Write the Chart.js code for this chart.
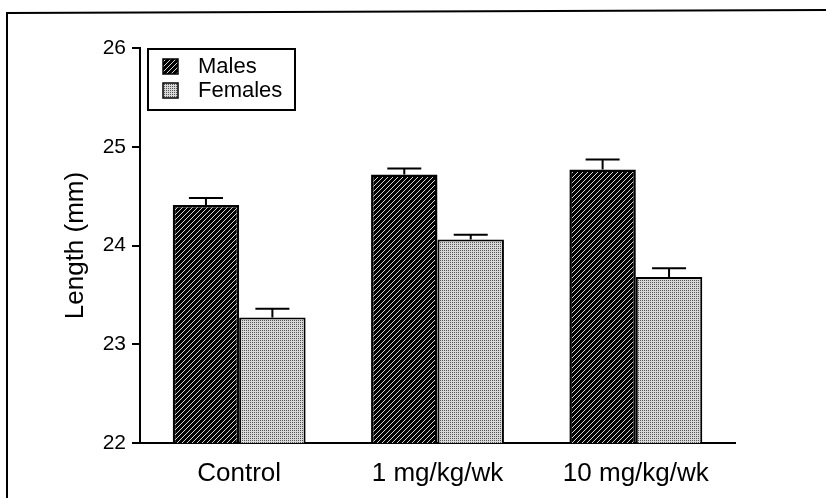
<!DOCTYPE html>
<html>
<head>
<meta charset="utf-8">
<script src="https://cdn.jsdelivr.net/npm/chart.js@4.4.1/dist/chart.umd.min.js"></script>
<style>
  html, body { margin: 0; padding: 0; background: #fff; }
  #wrap { width: 826px; height: 498px; position: relative; }
</style>
</head>
<body>
<div id="wrap"><canvas id="chart" width="826" height="498"></canvas></div>
<script>
const categories = ["Control", "1 mg/kg/wk", "10 mg/kg/wk"];
const seriesNames = ["Males", "Females"];
const males = [24.41, 24.72, 24.77];
const females = [23.27, 24.06, 23.68];
// upper error (SE) read from caps
const malesErr = [0.07, 0.06, 0.10];
const femalesErr = [0.09, 0.05, 0.09];
const yTicks = [22, 23, 24, 25, 26];

const FONT = "'Liberation Sans', Arial, Helvetica, sans-serif";

// hatched black for males
function hatchPattern() {
  const c = document.createElement("canvas");
  c.width = 5; c.height = 5;
  const g = c.getContext("2d");
  g.fillStyle = "#000";
  g.fillRect(0, 0, 5, 5);
  g.strokeStyle = "#eee";
  g.lineWidth = 0.9;
  g.beginPath();
  g.moveTo(-1, 6); g.lineTo(6, -1);
  g.moveTo(-1, 1); g.lineTo(1, -1);
  g.moveTo(4, 6); g.lineTo(6, 4);
  g.stroke();
  return g.createPattern(c, "repeat");
}

// stippled grey for females
function dotPattern() {
  const c = document.createElement("canvas");
  c.width = 2; c.height = 2;
  const g = c.getContext("2d");
  g.fillStyle = "#d8d8d8";
  g.fillRect(0, 0, 2, 2);
  g.fillStyle = "#555";
  g.fillRect(0, 0, 1, 1);
  return g.createPattern(c, "repeat");
}

const malePat = hatchPattern();
const femalePat = dotPattern();
const errs = [malesErr, femalesErr];

const errorBars = {
  id: "errorBars",
  afterDatasetsDraw(chart) {
    const ctx = chart.ctx;
    const y = chart.scales.y;
    ctx.save();
    ctx.strokeStyle = "#000";
    ctx.lineWidth = 2;
    chart.data.datasets.forEach((ds, i) => {
      const meta = chart.getDatasetMeta(i);
      meta.data.forEach((bar, j) => {
        const top = y.getPixelForValue(ds.data[j]);
        const cap = y.getPixelForValue(ds.data[j] + errs[i][j]);
        ctx.beginPath();
        ctx.moveTo(bar.x, top);
        ctx.lineTo(bar.x, cap);
        ctx.moveTo(bar.x - 17, cap);
        ctx.lineTo(bar.x + 17, cap);
        ctx.stroke();
      });
    });
    ctx.restore();
  }
};

const frameAndLegend = {
  id: "frameAndLegend",
  afterDraw(chart) {
    const ctx = chart.ctx;
    ctx.save();
    // outer frame of the figure
    ctx.strokeStyle = "#000";
    ctx.lineWidth = 2;
    ctx.beginPath();
    ctx.moveTo(7, 498);
    ctx.lineTo(7, 13);
    ctx.lineTo(826, 10);
    ctx.stroke();

    // legend box
    ctx.lineWidth = 2;
    ctx.strokeRect(148, 49, 147, 61);
    const fills = [malePat, femalePat];
    ctx.font = "22px " + FONT;
    ctx.textBaseline = "middle";
    seriesNames.forEach((name, i) => {
      const yy = 66 + i * 24;
      ctx.fillStyle = fills[i];
      ctx.fillRect(163, yy - 7, 15, 15);
      ctx.lineWidth = 1.5;
      ctx.strokeRect(163, yy - 7, 15, 15);
      ctx.fillStyle = "#000";
      ctx.fillText(name, 198, yy + 1);
    });
    ctx.restore();
  }
};

new Chart(document.getElementById("chart"), {
  type: "bar",
  data: {
    labels: categories,
    datasets: [
      { label: seriesNames[0], data: males, backgroundColor: malePat, borderColor: "#000", borderWidth: 2.5 },
      { label: seriesNames[1], data: females, backgroundColor: femalePat, borderColor: "#000", borderWidth: 2 }
    ]
  },
  options: {
    responsive: false,
    animation: false,
    events: [],
    layout: { padding: { top: 48, right: 91, left: 0, bottom: 0 } },
    datasets: { bar: { categoryPercentage: 0.67, barPercentage: 1.0 } },
    plugins: { legend: { display: false }, tooltip: { enabled: false } },
    scales: {
      x: {
        grid: { display: false },
        border: { display: true, color: "#000", width: 2 },
        ticks: { color: "#000", font: { family: FONT, size: 26 }, padding: 7, maxRotation: 0 },
        afterFit: s => { s.height = 55; }
      },
      y: {
        min: 22, max: 26,
        afterBuildTicks: s => { s.ticks = yTicks.map(v => ({ value: v })); },
        grid: { display: true, drawOnChartArea: false, drawTicks: true, tickLength: 8, color: "#000", lineWidth: 2 },
        border: { display: true, color: "#000", width: 2 },
        ticks: { color: "#000", font: { family: FONT, size: 21 }, padding: 6 },
        title: { display: true, text: "Length (mm)", color: "#000", font: { family: FONT, size: 26 }, padding: { top: 60, bottom: 0 } },
        afterFit: s => { s.width = 140; }
      }
    }
  },
  plugins: [errorBars, frameAndLegend]
});
</script>
</body>
</html>
